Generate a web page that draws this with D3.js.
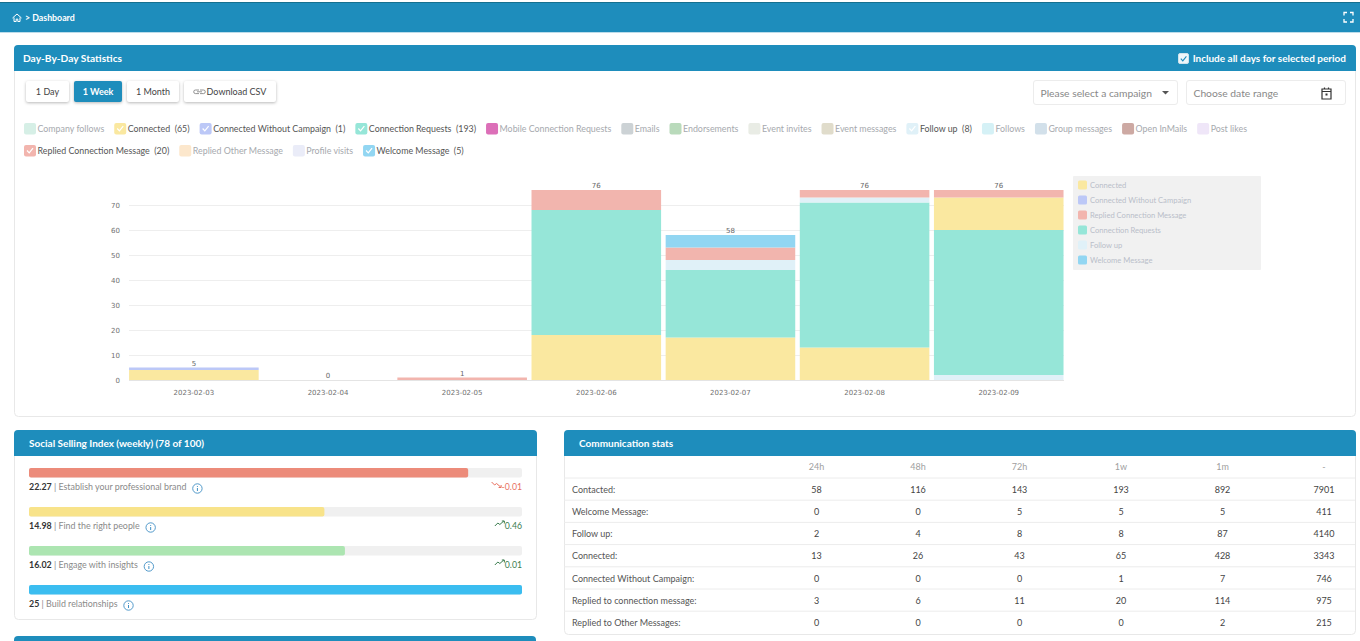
<!DOCTYPE html>
<html>
<head>
<meta charset="utf-8">
<title>Dashboard</title>
<script src="https://cdnjs.cloudflare.com/ajax/libs/d3/7.8.5/d3.min.js"></script>
<style>
  html, body { margin: 0; padding: 0; background: #fff; overflow: hidden; }
  svg { display: block; font-family: Lato, "Open Sans", sans-serif; }
  .btn { filter: drop-shadow(0 1px 1.5px rgba(0,0,0,.28)); }
  .axis path { display: none; }
  .axis text { fill: #707070; font-size: 7px; font-family: "DejaVu Sans", sans-serif; }
  .grid line { stroke: #eeeeee; }
</style>
</head>
<body>
<div id="chart"></div>
<script>
// chart data
const dates = ["2023-02-03","2023-02-04","2023-02-05","2023-02-06","2023-02-07","2023-02-08","2023-02-09"];
const connected = [4,0,0,18,17,13,13];
const connectedNoCampaign = [1,0,0,0,0,0,0];
const connectionRequests = [0,0,0,50,27,58,58];
const followUp = [0,0,0,0,4,2,2];
const repliedConnection = [0,0,1,8,5,3,3];
const welcomeMessage = [0,0,0,0,5,0,0];
const yTicks = [0,10,20,30,40,50,60,70];

// the chart stacks each day by its own order, the last day is different
const defaultOrder = ["Connected","Connected Without Campaign","Connection Requests","Follow up","Replied Connection Message","Welcome Message"];
const lastDayOrder = ["Follow up","Connection Requests","Connected","Replied Connection Message"];
const chartLegend = ["Connected","Connected Without Campaign","Replied Connection Message","Connection Requests","Follow up","Welcome Message"];

// top legend
const legendNames = ["Company follows","Connected","Connected Without Campaign","Connection Requests","Mobile Connection Requests","Emails","Endorsements","Event invites","Event messages","Follow up","Follows","Group messages","Open InMails","Post likes","Replied Connection Message","Replied Other Message","Profile visits","Welcome Message"];
const legendTotals = [null,65,1,193,null,null,null,null,null,8,null,null,null,null,20,null,null,5];

// social selling index
const ssiNames = ["Establish your professional brand","Find the right people","Engage with insights","Build relationships"];
const ssiValues = [22.27,14.98,16.02,25];
const ssiChanges = [-0.01,0.46,0.01,null];

// communication stats
const statColumns = ["24h","48h","72h","1w","1m","-"];
const statRows = ["Contacted:","Welcome Message:","Follow up:","Connected:","Connected Without Campaign:","Replied to connection message:","Replied to Other Messages:"];
const statValues = [
  [58,116,143,193,892,7901],
  [0,0,5,5,5,411],
  [2,4,8,8,87,4140],
  [13,26,43,65,428,3343],
  [0,0,0,1,7,746],
  [3,6,11,20,114,975],
  [0,0,0,0,2,215]
];

const blue = "#1e8dbc";
const seriesValues = {
  "Connected": connected,
  "Connected Without Campaign": connectedNoCampaign,
  "Connection Requests": connectionRequests,
  "Follow up": followUp,
  "Replied Connection Message": repliedConnection,
  "Welcome Message": welcomeMessage
};
const color = d3.scaleOrdinal()
  .domain(legendNames)
  .range(["#d6efe6","#fae8a0","#bcc8f7","#96e6d8","#dc6fb8","#ccd2d5","#b9dabb","#e9ece5","#e0dccb","#e0f1f8","#d5f1f6","#d2e0ea","#cda9a3","#efe6f8","#f2b5ae","#fce7cc","#eaecf8","#92d6f2"]);

const svg = d3.select("#chart").append("svg").attr("width", 1360).attr("height", 641);

function card(x, y, w, h, title) {
  svg.append("rect").attr("x", x + .5).attr("y", y + .5).attr("width", w).attr("height", h)
    .attr("rx", 4).attr("fill", "#fff").attr("stroke", "#e8e8e8");
  svg.append("path").attr("fill", blue)
    .attr("d", `M${x},${y + 26}V${y + 4}a4,4 0 0 1 4,-4H${x + w - 3}a4,4 0 0 1 4,4V${y + 26}Z`);
  svg.append("text").attr("x", x + (title.startsWith("Day") ? 9 : 15)).attr("y", y + 17)
    .attr("fill", "#fff").attr("font-size", title.startsWith("Day") ? 10.2 : 10).attr("font-weight", 700).text(title);
}

// top bar
svg.append("rect").attr("y", 2).attr("width", 1360).attr("height", 30).attr("fill", blue);
svg.append("rect").attr("y", 2).attr("width", 1360).attr("height", 1).attr("fill", "#15708f");
svg.append("rect").attr("y", 32).attr("width", 1360).attr("height", 1).attr("fill", "#bcdcea");
svg.append("path").attr("fill", "none").attr("stroke", "#fff").attr("stroke-width", 1)
  .attr("d", "M12.5,18l4.5,-4l4.5,4M14,17.5v4h2.2v-2.4h1.6v2.4h2.2v-4");
svg.append("text").attr("x", 25).attr("y", 20.5).attr("fill", "#fff").attr("font-size", 8.8).attr("font-weight", 700).text("> Dashboard");
svg.append("path").attr("fill", "none").attr("stroke", "#fff").attr("stroke-width", 1.3)
  .attr("d", "M1344,15.5v-3h3M1350,12.5h3v3M1353,19v3h-3M1347,22h-3v-3");

// main card
card(14, 45, 1341, 371, "Day-By-Day Statistics");
svg.append("rect").attr("x", 1178.5).attr("y", 53.5).attr("width", 10).attr("height", 10).attr("rx", 1.5).attr("fill", "#eef6fa").attr("stroke", "#cfe3ec");
svg.append("path").attr("d", "M1180.8,58.6l2,2.2l3.6,-4.4").attr("fill", "none").attr("stroke", blue).attr("stroke-width", 1.1);
svg.append("text").attr("x", 1346).attr("y", 62).attr("text-anchor", "end").attr("fill", "#fff")
  .attr("font-size", 10).attr("font-weight", 700).text("Include all days for selected period");

// buttons
const buttons = [["1 Day",26,43,false],["1 Week",74,48,true],["1 Month",127,52,false],["Download CSV",184,92,false]];
buttons.forEach(([label, x, w, active]) => {
  const g = svg.append("g");
  g.append("rect").attr("class", "btn").attr("x", x).attr("y", 81).attr("width", w).attr("height", 21).attr("rx", 2)
    .attr("fill", active ? blue : "#fff");
  g.append("text").attr("x", label == "Download CSV" ? x + w / 2 + 6.5 : x + w / 2).attr("y", 94.5).attr("text-anchor", "middle")
    .attr("font-size", 9).attr("font-weight", active ? 700 : 400).attr("fill", active ? "#fff" : "#444").text(label);
});
svg.append("path").attr("fill", "none").attr("stroke", "#777").attr("stroke-width", .8)
  .attr("d", "M199,90h-3.5a1.8,1.8 0 0 0 0,3.6h3.5M197,91.8h5M200,90h3.5a1.8,1.8 0 0 1 0,3.6h-3.5");

// campaign select and date range
[[1033.5,144,"Please select a campaign"],[1186.5,159,"Choose date range"]].forEach(([x, w, label]) => {
  svg.append("rect").attr("x", x).attr("y", 80.5).attr("width", w).attr("height", 24).attr("rx", 2.5).attr("fill", "#fff").attr("stroke", "#ececec");
  svg.append("text").attr("x", x + 7).attr("y", 96.5).attr("font-size", 10.3).attr("fill", "#888").text(label);
});
svg.append("path").attr("d", "M1162,91h7l-3.5,3.6z").attr("fill", "#555");
svg.append("path").attr("fill", "none").attr("stroke", "#333").attr("stroke-width", 1.2)
  .attr("d", "M1322,89h9v10h-9zM1322,91.5h9M1324.5,87.5v2M1328.5,87.5v2");
svg.append("rect").attr("x", 1325.5).attr("y", 93.5).attr("width", 2).attr("height", 2).attr("fill", "#333");

// top legend, flows in two rows
let lx = 24, ly = 129;
legendNames.forEach((name, i) => {
  const on = legendTotals[i] !== null;
  if (name == "Replied Connection Message") { lx = 24; ly = 151; }
  svg.append("rect").attr("x", lx).attr("y", ly - 6).attr("width", 12).attr("height", 11.5).attr("rx", 2).attr("fill", color(name));
  if (on) svg.append("path").attr("d", `M${lx + 3},${ly - .5}l2.2,2.4l3.8,-4.8`).attr("fill", "none").attr("stroke", "#fff").attr("stroke-width", 1.2);
  const t = svg.append("text").attr("x", lx + 13.5).attr("y", ly + 3.2).attr("font-size", 8.85)
    .attr("fill", on ? "#555" : "#a6a9ae")
    .text(on ? `${name}\u00a0\u00a0(${legendTotals[i]})` : name);
  lx += 13.5 + t.node().getComputedTextLength() + 10;
});

// stacked bars
const x = d3.scaleBand().domain(dates).range([126.8, 1065.8]).paddingInner(.034).paddingOuter(.017);
const y = d3.scaleLinear().domain([0, 76]).range([380, 190]);

svg.append("g").attr("class", "grid")
  .selectAll("line").data(yTicks.slice(1)).join("line")
  .attr("x1", 129).attr("x2", 1064).attr("y1", d => y(d) + .5).attr("y2", d => y(d) + .5);
svg.append("line").attr("x1", 129).attr("x2", 1064).attr("y1", 380.5).attr("y2", 380.5).attr("stroke", "#e4e4e4");

dates.forEach((date, i) => {
  const order = i == dates.length - 1 ? lastDayOrder : defaultOrder;
  const row = {};
  order.forEach(k => { row[k] = seriesValues[k][i]; });
  const layers = d3.stack().keys(order)([row]);
  svg.append("g").selectAll("rect").data(layers).join("rect")
    .attr("x", x(date)).attr("width", x.bandwidth())
    .attr("y", d => y(d[0][1])).attr("height", d => y(d[0][0]) - y(d[0][1]))
    .attr("fill", d => color(d.key));
  svg.append("text").attr("x", x(date) + x.bandwidth() / 2).attr("y", y(layers[layers.length - 1][0][1]) - 1.8)
    .attr("text-anchor", "middle").attr("font-size", 7).attr("font-family", "DejaVu Sans").attr("fill", "#666")
    .text(layers[layers.length - 1][0][1]);
});

svg.append("g").attr("class", "axis").attr("transform", "translate(122,0)")
  .call(d3.axisLeft(y).tickValues(yTicks).tickSize(0).tickPadding(2));
svg.append("g").attr("class", "axis").attr("transform", "translate(0,380)")
  .call(d3.axisBottom(x).tickSize(0).tickPadding(10));

// chart legend box
svg.append("rect").attr("x", 1073).attr("y", 176).attr("width", 188).attr("height", 94).attr("rx", 1).attr("fill", "#f1f1f1");
chartLegend.forEach((name, i) => {
  const ry = 185 + i * 15;
  svg.append("rect").attr("x", 1078).attr("y", ry - 4.5).attr("width", 9).attr("height", 9).attr("rx", 1.5).attr("fill", color(name));
  svg.append("text").attr("x", 1090).attr("y", ry + 3).attr("font-size", 7.6).attr("fill", "#b9bec9").text(name);
});

// social selling card
card(14, 430, 522, 189, "Social Selling Index (weekly) (78 of 100)");
const ssiColors = ["#ec8b7a","#f8e38a","#ace5b1","#3bbdf0"];
const ssiX = d3.scaleLinear().domain([0, 25]).range([29, 522]);
ssiNames.forEach((name, i) => {
  const top = 468 + i * 39;
  svg.append("rect").attr("x", ssiX(0)).attr("y", top).attr("width", ssiX(25) - ssiX(0)).attr("height", 9.5).attr("rx", 2).attr("fill", "#f0f0f0");
  svg.append("rect").attr("x", ssiX(0)).attr("y", top).attr("width", ssiX(ssiValues[i]) - ssiX(0)).attr("height", 9.5).attr("rx", 2).attr("fill", ssiColors[i]);
  const t = svg.append("text").attr("x", 29).attr("y", top + 22).attr("font-size", 8.9).attr("fill", "#8a8a8a");
  t.append("tspan").attr("font-weight", 700).attr("fill", "#333").text(ssiValues[i]);
  t.append("tspan").text(` | ${name}`);
  const ix = 29 + t.node().getComputedTextLength() + 11;
  svg.append("circle").attr("cx", ix).attr("cy", top + 20.5).attr("r", 4.7).attr("fill", "none").attr("stroke", "#3f8fc4").attr("stroke-width", .9);
  svg.append("path").attr("d", `M${ix},${top + 18}v.9M${ix},${top + 20}v3`).attr("stroke", "#3f8fc4").attr("stroke-width", 1);
  if (ssiChanges[i] !== null) {
    const up = ssiChanges[i] > 0;
    const c = up ? "#3b7d4f" : "#e8705f";
    const dt = svg.append("text").attr("x", 522).attr("y", top + 22).attr("text-anchor", "end").attr("font-size", 8.7).attr("fill", c).text(ssiChanges[i]);
    const ex = 522 - dt.node().getComputedTextLength() - 10;
    const ey = top + 18;
    svg.append("path").attr("fill", "none").attr("stroke", c).attr("stroke-width", 1)
      .attr("d", up ? `M${ex},${ey + 1}l3,-3l2,1.5l4,-3.5M${ex + 7},${ey - 4}h2.5v2.5`
                    : `M${ex},${ey - 4}l3,3l2,-1.5l4,3.5M${ex + 7},${ey + 1.5}h2.5v-2.5`);
  }
});

// start of the next card, cut by the window
svg.append("path").attr("fill", blue).attr("d", "M14,641v-1a4,4 0 0 1 4,-4H532a4,4 0 0 1 4,4v1Z");

// communication stats card
card(564, 430, 791, 204, "Communication stats");
const colX = d3.scalePoint().domain(statColumns).range([816.5, 1324]);
const rowY = d3.scalePoint().domain(statRows).range([489.5, 623]);
statColumns.forEach(c => {
  svg.append("text").attr("x", colX(c)).attr("y", 470).attr("text-anchor", "middle").attr("font-size", 9).attr("fill", "#a0a0a0").text(c);
});
statRows.forEach((r, i) => {
  const ln = 478 + i * 22.2;
  svg.append("line").attr("x1", 564).attr("x2", 1355).attr("y1", ln).attr("y2", ln).attr("stroke", "#ececec");
});
statRows.forEach((r, i) => {
  svg.append("text").attr("x", 572).attr("y", rowY(r) + 3).attr("font-size", 9).attr("fill", "#555").text(r);
  statValues[i].forEach((v, j) => {
    svg.append("text").attr("x", colX(statColumns[j])).attr("y", rowY(r) + 3).attr("text-anchor", "middle")
      .attr("font-size", 9).attr("fill", "#444").text(v);
  });
});
</script>
</body>
</html>
